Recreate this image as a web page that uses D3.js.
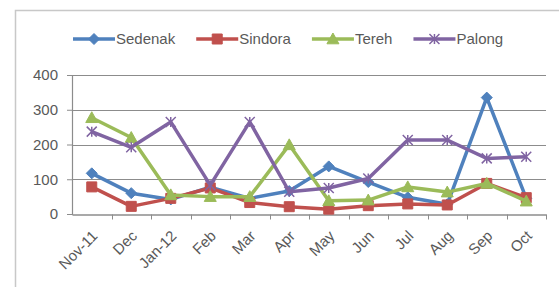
<!DOCTYPE html>
<html>
<head>
<meta charset="utf-8">
<script src="https://cdn.jsdelivr.net/npm/d3@7"></script>
<style>
  body { margin: 0; background: #fff; }
  svg { display: block; font-family: "Liberation Sans", Arial, sans-serif; }
</style>
</head>
<body>
<svg id="chart" width="559" height="287"></svg>
<script>
// data
const months = ["Nov-11", "Dec", "Jan-12", "Feb", "Mar", "Apr", "May", "Jun", "Jul", "Aug", "Sep", "Oct"];
const sedenak = [117, 60, 42, 77, 45, 66, 137, 92, 48, 28, 335, 45];
const sindora = [78, 22, 45, 75, 33, 21, 14, 24, 29, 26, 88, 47];
const tereh = [277, 220, 55, 50, 50, 199, 38, 40, 78, 63, 88, 37];
const palong = [237, 192, 265, 83, 265, 64, 75, 102, 213, 213, 160, 165];
const yTicks = [0, 100, 200, 300, 400];

const series = [
  { name: "Sedenak", values: sedenak, color: "#4f81bd", marker: "diamond" },
  { name: "Sindora", values: sindora, color: "#c0504d", marker: "square" },
  { name: "Tereh", values: tereh, color: "#9bbb59", marker: "triangle" },
  { name: "Palong", values: palong, color: "#8064a2", marker: "star" }
];

const svg = d3.select("#chart");

// outer frame (only left and top edges show inside the window)
svg.append("path")
  .attr("d", "M15.5,287 V10.5 H559")
  .attr("fill", "none")
  .attr("stroke", "#c8c8c8")
  .attr("stroke-width", 1.5);

const plot = { left: 72, right: 546, top: 75, bottom: 214 };

const x = d3.scaleBand().domain(months).range([plot.left, plot.right]);
const y = d3.scaleLinear().domain([0, 400]).range([plot.bottom, plot.top]);

// gridlines
svg.append("g")
  .selectAll("line")
  .data(yTicks.slice(1))
  .enter()
  .append("line")
  .attr("x1", plot.left)
  .attr("x2", plot.right)
  .attr("y1", d => Math.round(y(d)) + 0.5)
  .attr("y2", d => Math.round(y(d)) + 0.5)
  .attr("stroke", "#8c8c8c")
  .attr("stroke-width", 1.2);

// y axis
const yAxis = svg.append("g")
  .attr("transform", `translate(${plot.left},0)`)
  .call(d3.axisLeft(y).tickValues(yTicks).tickSize(5).tickPadding(9));
yAxis.select(".domain").attr("stroke", "#8c8c8c").attr("stroke-width", 1.2);
yAxis.selectAll(".tick line").attr("stroke", "#8c8c8c");
yAxis.selectAll("text")
  .attr("fill", "#595959")
  .style("font-size", "15px");

// x axis with ticks on category boundaries
const xAxis = svg.append("g")
  .attr("transform", `translate(0,${Math.round(plot.bottom) + 0.5})`)
  .call(d3.axisBottom(x).tickSize(0).tickPadding(6));
xAxis.select(".domain").attr("stroke", "#8c8c8c").attr("stroke-width", 1.5);
xAxis.selectAll("text")
  .attr("fill", "#595959")
  .style("font-size", "15px")
  .attr("text-anchor", "end")
  .attr("dx", "0.3em")
  .attr("dy", "0.5em")
  .attr("transform", "translate(-6,16) rotate(-45)");
xAxis.append("g")
  .selectAll("line")
  .data(months.slice(1).concat(["end"]))
  .enter()
  .append("line")
  .attr("x1", (d, i) => Math.round(plot.left + x.bandwidth() * (i + 1)) + 0.5)
  .attr("x2", (d, i) => Math.round(plot.left + x.bandwidth() * (i + 1)) + 0.5)
  .attr("y1", 0)
  .attr("y2", 5)
  .attr("stroke", "#8c8c8c");

function markerPath(type, s) {
  if (type === "diamond") return `M0,${-s} L${s},0 L0,${s} L${-s},0 Z`;
  if (type === "square") return `M${-s},${-s} H${s} V${s} H${-s} Z`;
  if (type === "triangle") return `M0,${-s} L${s},${s * 0.8} L${-s},${s * 0.8} Z`;
  return `M${-s},${-s} L${s},${s} M${s},${-s} L${-s},${s} M0,${-s} V${s}`;
}

function drawMarker(g, type, color) {
  if (type === "star") {
    g.append("path")
      .attr("d", markerPath(type, 5))
      .attr("fill", "none")
      .attr("stroke", color)
      .attr("stroke-width", 1.5);
  } else {
    const size = type === "square" ? 5 : type === "diamond" ? 5.5 : 6;
    g.append("path")
      .attr("d", markerPath(type, size))
      .attr("fill", color)
      .attr("stroke", color)
      .attr("stroke-width", 1);
  }
}

const cx = d => x(d) + x.bandwidth() / 2;

const line = d3.line()
  .x((d, i) => cx(months[i]))
  .y(d => y(d));

series.forEach(s => {
  const g = svg.append("g");
  g.append("path")
    .datum(s.values)
    .attr("d", line)
    .attr("fill", "none")
    .attr("stroke", s.color)
    .attr("stroke-width", 3.5)
    .attr("stroke-linejoin", "round");
  s.values.forEach((v, i) => {
    const m = g.append("g").attr("transform", `translate(${cx(months[i])},${y(v)})`);
    drawMarker(m, s.marker, s.color);
  });
});

// legend
const legend = svg.append("g").attr("transform", "translate(0,39)");
let lx = 73;
series.forEach(s => {
  const item = legend.append("g").attr("transform", `translate(${lx},0)`);
  item.append("line")
    .attr("x1", 0).attr("x2", 42)
    .attr("stroke", s.color)
    .attr("stroke-width", 3.5);
  const m = item.append("g").attr("transform", "translate(21,0)");
  drawMarker(m, s.marker, s.color);
  const t = item.append("text")
    .attr("x", 43)
    .attr("dy", "0.35em")
    .attr("fill", "#595959")
    .style("font-size", "15px")
    .text(s.name);
  lx += 43 + t.node().getComputedTextLength() + 21;
});
</script>
</body>
</html>
